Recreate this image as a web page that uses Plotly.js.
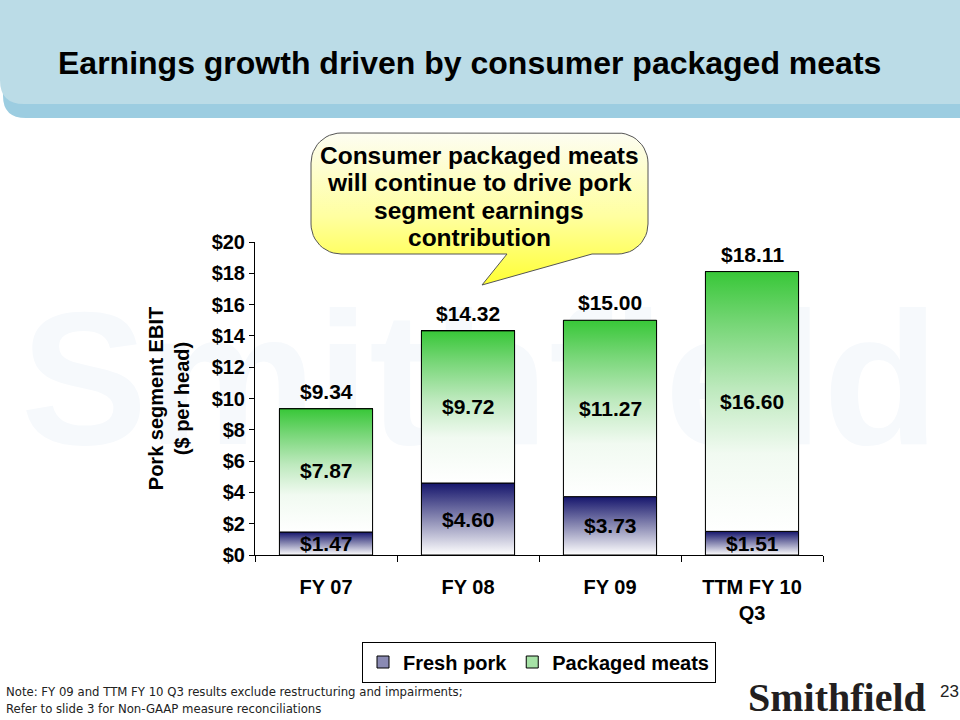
<!DOCTYPE html>
<html><head><meta charset="utf-8">
<script src="https://cdn.plot.ly/plotly-3.0.1.min.js"></script>
<style>html,body{margin:0;padding:0;background:#fff;}#chart{width:960px;height:720px;}</style>
</head><body><div id="chart"></div>
<script>
// ---- data ----
const categories = ['FY 07', 'FY 08', 'FY 09', 'TTM FY 10<br>Q3'];
const seriesNames = ['Fresh pork', 'Packaged meats'];
const freshPork = [1.47, 4.60, 3.73, 1.51];
const packagedMeats = [7.87, 9.72, 11.27, 16.60];
const totals = [9.34, 14.32, 15.00, 18.11];
const yTickVals = [0, 2, 4, 6, 8, 10, 12, 14, 16, 18, 20];
const yTickText = ['$0', '$2', '$4', '$6', '$8', '$10', '$12', '$14', '$16', '$18', '$20'];
const calloutLines = ['Consumer packaged meats', 'will continue to drive pork', 'segment earnings', 'contribution'];
const noteLines = ['Note: FY 09 and TTM FY 10 Q3 results exclude restructuring and impairments;', 'Refer to slide 3 for Non-GAAP measure reconciliations'];

// ---- layout constants ----
const W = 960, H = 720;
const plotL = 255, plotR = 823, plotT = 242, plotB = 555;
const barWidth = 0.656;
const SANS = 'Liberation Sans, Arial, sans-serif';
const xIdx = categories.map((c, i) => i);
const fmt = v => '$' + v.toFixed(2);

const freshColors = [[0, '#ffffff'], [0.5, '#8a8ab3'], [1, '#15156c']];
const greenColors = [[0, '#ffffff'], [0.3, '#f1faf1'], [0.55, '#bde9bd'], [0.8, '#76d676'], [1, '#38c738']];

const traces = [];
// base stacked bars (data + legend)
traces.push({type: 'bar', name: seriesNames[0], x: xIdx, y: freshPork, width: barWidth,
  marker: {color: '#8a8ab3', line: {color: '#000', width: 1}}, hoverinfo: 'skip', xaxis: 'x', yaxis: 'y'});
traces.push({type: 'bar', name: seriesNames[1], x: xIdx, y: packagedMeats, width: barWidth,
  marker: {color: '#a6e2a6', line: {color: '#000', width: 1}}, hoverinfo: 'skip', xaxis: 'x', yaxis: 'y'});

// gradient overlays built from the same arrays
function rectTrace(i, lo, hi, colors) {
  const h = barWidth / 2;
  return {type: 'scatter', mode: 'lines', x: [i - h, i + h, i + h, i - h, i - h], y: [lo, lo, hi, hi, lo],
    fill: 'toself', fillgradient: {type: 'vertical', colorscale: colors},
    line: {color: '#000', width: 1}, showlegend: false, hoverinfo: 'skip', xaxis: 'x', yaxis: 'y'};
}
xIdx.forEach(i => {
  traces.push(rectTrace(i, 0, freshPork[i], freshColors));
  traces.push(rectTrace(i, freshPork[i], freshPork[i] + packagedMeats[i], greenColors));
});

// callout bubble (decoration, on a full-page pixel axis)
(function () {
  const L = 311, R = 648, T = 133, B = 254, r = 30;
  const tail = [[592, B], [482, 285], [507, B]];
  const xs = [], ys = [];
  function arc(cx, cy, a0, a1) {
    for (let k = 0; k <= 12; k++) {
      const a = (a0 + (a1 - a0) * k / 12) * Math.PI / 180;
      xs.push(cx + r * Math.cos(a)); ys.push(cy + r * Math.sin(a));
    }
  }
  arc(L + r, T + r, 180, 270);
  arc(R - r, T + r, 270, 360);
  arc(R - r, B - r, 0, 90);
  tail.forEach(p => { xs.push(p[0]); ys.push(p[1]); });
  arc(L + r, B - r, 90, 180);
  xs.push(xs[0]); ys.push(ys[0]);
  traces.push({type: 'scatter', mode: 'lines', x: xs, y: ys, fill: 'toself',
    fillgradient: {type: 'vertical', colorscale: [[0, '#ffff33'], [0.45, '#ffffa0'], [1, '#fdfdf2']]},
    line: {color: '#555', width: 1}, showlegend: false, hoverinfo: 'skip', xaxis: 'x2', yaxis: 'y2'});
})();

const annotations = [];
xIdx.forEach(i => {
  annotations.push({xref: 'x', yref: 'y', x: i, y: freshPork[i] / 2, text: fmt(freshPork[i]), showarrow: false,
    font: {family: SANS, size: 21, weight: 'bold', color: '#000'}});
  annotations.push({xref: 'x', yref: 'y', x: i, y: freshPork[i] + packagedMeats[i] / 2, text: fmt(packagedMeats[i]), showarrow: false,
    font: {family: SANS, size: 21, weight: 'bold', color: '#000'}});
  annotations.push({xref: 'x', yref: 'y', x: i, y: totals[i], text: fmt(totals[i]), showarrow: false,
    yanchor: 'bottom', yshift: 4, font: {family: SANS, size: 21, weight: 'bold', color: '#000'}});
});
calloutLines.forEach((t, k) => {
  annotations.push({xref: 'x2', yref: 'y2', x: 479, y: 155 + 27.5 * k, text: t, showarrow: false,
    font: {family: SANS, size: 24.5, weight: 'bold', color: '#000'}});
});
noteLines.forEach((t, k) => {
  annotations.push({xref: 'x2', yref: 'y2', x: 4, y: 691 + 17 * k, text: t, showarrow: false, xanchor: 'left',
    font: {family: 'Liberation Sans Narrow, DejaVu Sans Condensed, Arial, sans-serif', size: 13, color: '#222'}});
});
annotations.push({xref: 'x2', yref: 'y2', x: 746, y: 697, text: 'Smithfield', showarrow: false, xanchor: 'left',
  font: {family: 'Liberation Serif, serif', size: 40, weight: 'bold', color: '#231f20'}});
annotations.push({xref: 'x2', yref: 'y2', x: 938, y: 691, text: '23', showarrow: false, xanchor: 'left',
  font: {family: SANS, size: 17, color: '#222'}});

const shapes = [
  // watermark
  {type: 'rect', xref: 'paper', yref: 'paper', x0: 0, x1: 1, y0: (H - 440) / H, y1: (H - 280) / H,
    line: {width: 0}, fillcolor: 'rgba(0,0,0,0)', layer: 'below',
    label: {text: 'Smithfield', textposition: 'middle center',
      font: {family: SANS, size: 190, weight: 'bold', color: '#f6f9fc'}}},
  // header band
  {type: 'path', xref: 'x2', yref: 'y2', layer: 'below', line: {width: 0}, fillcolor: '#9ccde1',
    path: 'M0,0 L960,0 L960,118 L26,118 Q3,118 3,96 Z'},
  {type: 'path', xref: 'x2', yref: 'y2', layer: 'below', line: {width: 0}, fillcolor: '#bbdce7',
    path: 'M0,0 L960,0 L960,104 L24,104 Q0,104 0,80 Z'}
];

const layout = {
  width: W, height: H,
  margin: {l: 0, r: 0, t: 0, b: 0, pad: 0},
  paper_bgcolor: '#ffffff', plot_bgcolor: 'rgba(0,0,0,0)',
  barmode: 'stack', hovermode: false,
  title: {text: 'Earnings growth driven by consumer packaged meats', xref: 'paper', yref: 'paper',
    x: 58 / W, xanchor: 'left', y: 1 - 63 / H, yanchor: 'middle',
    font: {family: SANS, size: 32, weight: 'bold', color: '#000'}},
  xaxis: {domain: [plotL / W, plotR / W], range: [-0.5, 3.5], anchor: 'y',
    tickmode: 'array', tickvals: xIdx, ticktext: categories, ticks: '', ticklabelstandoff: 14,
    tickfont: {family: SANS, size: 20, weight: 'bold', color: '#000'},
    minor: {tick0: 0.5, dtick: 1, ticks: 'outside', ticklen: 6, tickcolor: '#000', tickwidth: 1},
    showline: true, linecolor: '#000', linewidth: 1, showgrid: false, zeroline: false, fixedrange: true},
  yaxis: {domain: [(H - plotB) / H, (H - plotT) / H], range: [0, 20], anchor: 'x',
    tickmode: 'array', tickvals: yTickVals, ticktext: yTickText,
    ticks: 'outside', ticklen: 5, tickcolor: '#000', tickwidth: 1,
    tickfont: {family: SANS, size: 20, weight: 'bold', color: '#000'},
    showline: true, linecolor: '#000', linewidth: 1, showgrid: false, zeroline: false, fixedrange: true,
    title: {text: 'Pork segment EBIT<br>($ per head)', standoff: 16,
      font: {family: SANS, size: 20, weight: 'bold', color: '#000'}}},
  xaxis2: {domain: [0, 1], range: [0, W], anchor: 'y2', visible: false, fixedrange: true},
  yaxis2: {domain: [0, 1], range: [H, 0], anchor: 'x2', visible: false, fixedrange: true},
  showlegend: true,
  legend: {orientation: 'h', x: 539 / W, xanchor: 'center', y: (H - 662) / H, yanchor: 'middle',
    bgcolor: '#fff', bordercolor: '#000', borderwidth: 1, traceorder: 'normal',
    font: {family: SANS, size: 20, weight: 'bold', color: '#000'}, itemwidth: 30},
  shapes: shapes, annotations: annotations
};

Plotly.newPlot('chart', traces, layout, {staticPlot: true, displayModeBar: false});
</script></body></html>
